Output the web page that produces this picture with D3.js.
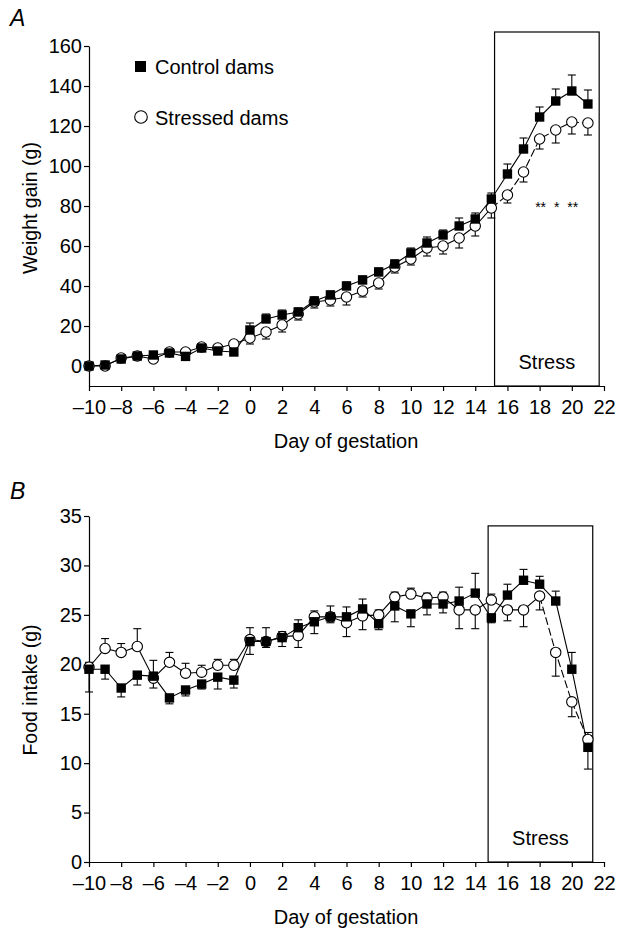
<!DOCTYPE html>
<html>
<head>
<meta charset="utf-8">
<script src="https://cdn.jsdelivr.net/npm/d3@7.9.0/dist/d3.min.js"></script>
<style>
  body { margin: 0; background: #fff; }
  svg { font-family: "Liberation Sans", Arial, Helvetica, sans-serif; }
</style>
</head>
<body>
<svg width="632" height="931"></svg>
<script>
// Days of gestation (shared by both panels)
const days = [-10, -9, -8, -7, -6, -5, -4, -3, -2, -1, 0, 1, 2, 3, 4, 5,
  6, 7, 8, 9, 10, 11, 12, 13, 14, 15, 16, 17, 18, 19, 20, 21];

// Panel A: weight gain (g)
const weightControl = [0, 0.5, 3.5, 5, 5.5, 6.5, 4.8, 9, 7.5, 7, 18, 23.5, 25.5, 27, 32.5, 35.5,
  40, 43, 47, 51, 56.5, 61.5, 65.5, 70, 73.5, 83.5, 96, 108.5, 124.5, 132.5, 137.5, 131];
const weightControlErr = [1, 1, 1, 1, 1, 1, 1, 1, 1, 1, 3.5, 2.5, 2.5, 2, 2, 2,
  2, 2, 2, 2, 2.5, 3, 2.5, 4, 3, 3, 5, 5.5, 5, 6, 8, 7];
const weightStressed = [0, 0, 4, 5, 3.5, 7, 7, 9.5, 9, 11, 14, 17, 20.5, 26, 32, 33,
  34.5, 37.5, 41.5, 49.5, 53.5, 59, 60, 64, 70, 79, 85.5, 97, 113.5, 118, 122, 121.5];
const weightStressedErr = [1, 1, 1, 1, 1, 1, 1, 1, 1, 1, 3, 3.5, 3.5, 3, 3, 3,
  4, 3, 3, 3, 3, 4, 4, 5, 5, 5, 4, 5, 5, 6.5, 6, 6];
const weightTicks = [0, 20, 40, 60, 80, 100, 120, 140, 160];
const weightStars = [{ day: 18, text: '**' }, { day: 19, text: '*' }, { day: 20, text: '**' }];

// Panel B: food intake (g)
const foodControl = [19.5, 19.5, 17.6, 18.9, 18.8, 16.6, 17.4, 18.0, 18.7, 18.4, 22.3, 22.3, 22.7, 23.7, 24.3, 24.8,
  24.8, 25.6, 24.1, 25.9, 25.1, 26.1, 26.1, 26.4, 27.2, 24.7, 27.0, 28.5, 28.1, 26.4, 19.5, 11.6];
const foodControlErr = [2.3, 1.0, 0.9, 1.0, 1.6, 0.6, 0.6, 0.5, 1.2, 0.8, 1.3, 1.4, 0.9, 0.8, 1.2, 1.1,
  1.0, 1.0, 0.6, 1.6, 1.3, 1.1, 0.9, 1.4, 2.0, 0.5, 1.1, 1.1, 0.8, 1.0, 1.7, 2.2];
const foodStressed = [19.7, 21.6, 21.2, 21.8, 18.6, 20.2, 19.1, 19.2, 19.9, 19.9, 22.5, 22.3, 22.8, 22.9, 24.8, 24.8,
  24.2, 24.9, 25.0, 26.8, 27.1, 26.7, 26.8, 25.5, 25.5, 26.5, 25.5, 25.5, 26.9, 21.2, 16.2, 12.4];
const foodStressedErr = [0.5, 1.0, 0.9, 1.8, 1.0, 1.0, 1.0, 0.7, 0.6, 0.6, 1.2, 0.6, 0.5, 1.2, 0.6, 0.6,
  1.4, 1.4, 0.5, 0.5, 0.6, 0.5, 0.5, 1.9, 1.9, 0.6, 1.1, 1.7, 1.4, 2.4, 1.5, 0.7];
const foodTicks = [0, 5, 10, 15, 20, 25, 30, 35];

const dayTicks = [-10, -8, -6, -4, -2, 0, 2, 4, 6, 8, 10, 12, 14, 16, 18, 20, 22];

const svg = d3.select('svg');
const fmtDay = (d) => (d < 0 ? '\u2013' + Math.abs(d) : String(d));
const FS = 20;

function drawPanel(cfg) {
  const x = d3.scaleLinear().domain([-10, 22]).range([89, 604]);
  const y = d3.scaleLinear().domain(cfg.yDomain).range(cfg.yRange);
  const g = svg.append('g');

  // stress box
  g.append('rect')
    .attr('x', x(cfg.box[0]))
    .attr('y', y(cfg.box[2]))
    .attr('width', x(cfg.box[1]) - x(cfg.box[0]))
    .attr('height', y(cfg.yDomain[0]) - y(cfg.box[2]))
    .attr('fill', 'none')
    .attr('stroke', '#000')
    .attr('stroke-width', 1.2);
  g.append('text')
    .attr('x', x((cfg.box[0] + cfg.box[1]) / 2))
    .attr('y', cfg.stressY)
    .attr('text-anchor', 'middle')
    .attr('font-size', FS)
    .text('Stress');

  // axes
  const xAxis = g.append('g')
    .attr('transform', `translate(0,${cfg.yRange[0]})`)
    .call(d3.axisBottom(x).tickValues(dayTicks).tickFormat(fmtDay)
      .tickSize(5).tickSizeOuter(0).tickPadding(9));
  const yAxis = g.append('g')
    .attr('transform', `translate(${x(-10)},0)`)
    .call(d3.axisLeft(y).tickValues(cfg.yTicks).tickSize(5).tickSizeOuter(0).tickPadding(2));
  [xAxis, yAxis].forEach((a) => {
    a.selectAll('text').attr('font-size', FS).attr('fill', '#000')
      .attr('font-family', '"Liberation Sans", Arial, sans-serif');
    a.selectAll('line, path').attr('stroke', '#000').attr('stroke-width', 1.2);
  });

  g.append('text')
    .attr('x', 346).attr('y', cfg.yRange[0] + 62)
    .attr('text-anchor', 'middle').attr('font-size', FS)
    .text('Day of gestation');
  g.append('text')
    .attr('transform', `translate(37,${cfg.yLabelY}) rotate(-90)`)
    .attr('text-anchor', 'middle').attr('font-size', 19.5)
    .text(cfg.yLabel);
  g.append('text')
    .attr('x', 10).attr('y', cfg.letterY)
    .attr('font-size', 23).attr('font-style', 'italic')
    .text(cfg.letter);

  const ctl = days.map((d, i) => ({ d, v: cfg.control[i], e: cfg.controlErr[i], o: cfg.stressed[i] }));
  const str = days.map((d, i) => ({ d, v: cfg.stressed[i], e: cfg.stressedErr[i], o: cfg.control[i] }));

  const line = d3.line().x((p) => x(p.d)).y((p) => y(p.v));
  g.append('path').datum(ctl).attr('d', line)
    .attr('fill', 'none').attr('stroke', '#000').attr('stroke-width', 1.1);
  g.append('path').datum(str.filter((p) => p.d <= cfg.dashFrom)).attr('d', line)
    .attr('fill', 'none').attr('stroke', '#000').attr('stroke-width', 1.1);
  g.append('path').datum(str.filter((p) => p.d >= cfg.dashFrom)).attr('d', line)
    .attr('fill', 'none').attr('stroke', '#000').attr('stroke-width', 1.1)
    .attr('stroke-dasharray', '8,3');

  // error bars: point away from the other series
  function errBars(data, upWhenTie) {
    data.forEach((p) => {
      const up = p.v > p.o || (p.v === p.o && upWhenTie);
      const end = up ? p.v + p.e : p.v - p.e;
      g.append('line')
        .attr('x1', x(p.d)).attr('x2', x(p.d))
        .attr('y1', y(p.v)).attr('y2', y(end))
        .attr('stroke', '#000').attr('stroke-width', 1.1);
      g.append('line')
        .attr('x1', x(p.d) - 4).attr('x2', x(p.d) + 4)
        .attr('y1', y(end)).attr('y2', y(end))
        .attr('stroke', '#000').attr('stroke-width', 1.1);
    });
  }
  errBars(ctl, true);
  errBars(str, false);

  g.selectAll('circle.stressed').data(str).join('circle')
    .attr('class', 'stressed')
    .attr('cx', (p) => x(p.d)).attr('cy', (p) => y(p.v)).attr('r', 5.2)
    .attr('fill', '#fff').attr('stroke', '#000').attr('stroke-width', 1.1);
  g.selectAll('rect.control').data(ctl).join('rect')
    .attr('class', 'control')
    .attr('x', (p) => x(p.d) - 4.7).attr('y', (p) => y(p.v) - 4.7)
    .attr('width', 9.4).attr('height', 9.4)
    .attr('fill', '#000');

  if (cfg.stars) {
    cfg.stars.forEach((s) => {
      g.append('text')
        .attr('x', x(s.day) + 1).attr('y', 212)
        .attr('text-anchor', 'middle').attr('font-size', 14)
        .text(s.text);
    });
  }
  return { x, y, g };
}

const panelA = drawPanel({
  letter: 'A', letterY: 26,
  yDomain: [-10, 160], yRange: [386, 46], yTicks: weightTicks,
  yLabel: 'Weight gain (g)', yLabelY: 208,
  control: weightControl, controlErr: weightControlErr,
  stressed: weightStressed, stressedErr: weightStressedErr,
  box: [15.2, 21.7, 167], stressY: 369, dashFrom: 15,
  stars: weightStars
});

drawPanel({
  letter: 'B', letterY: 499,
  yDomain: [0, 35], yRange: [862, 516], yTicks: foodTicks,
  yLabel: 'Food intake (g)', yLabelY: 690,
  control: foodControl, controlErr: foodControlErr,
  stressed: foodStressed, stressedErr: foodStressedErr,
  box: [14.8, 21.3, 34], stressY: 845, dashFrom: 18
});

// legend in panel A
const lg = panelA.g.append('g');
lg.append('rect').attr('x', 135).attr('y', 61).attr('width', 11).attr('height', 11).attr('fill', '#000');
lg.append('text').attr('x', 155).attr('y', 73.5).attr('font-size', FS).text('Control dams');
lg.append('circle').attr('cx', 141).attr('cy', 117).attr('r', 6.3)
  .attr('fill', '#fff').attr('stroke', '#000').attr('stroke-width', 1.1);
lg.append('text').attr('x', 155).attr('y', 124.5).attr('font-size', FS).text('Stressed dams');
</script>
</body>
</html>
